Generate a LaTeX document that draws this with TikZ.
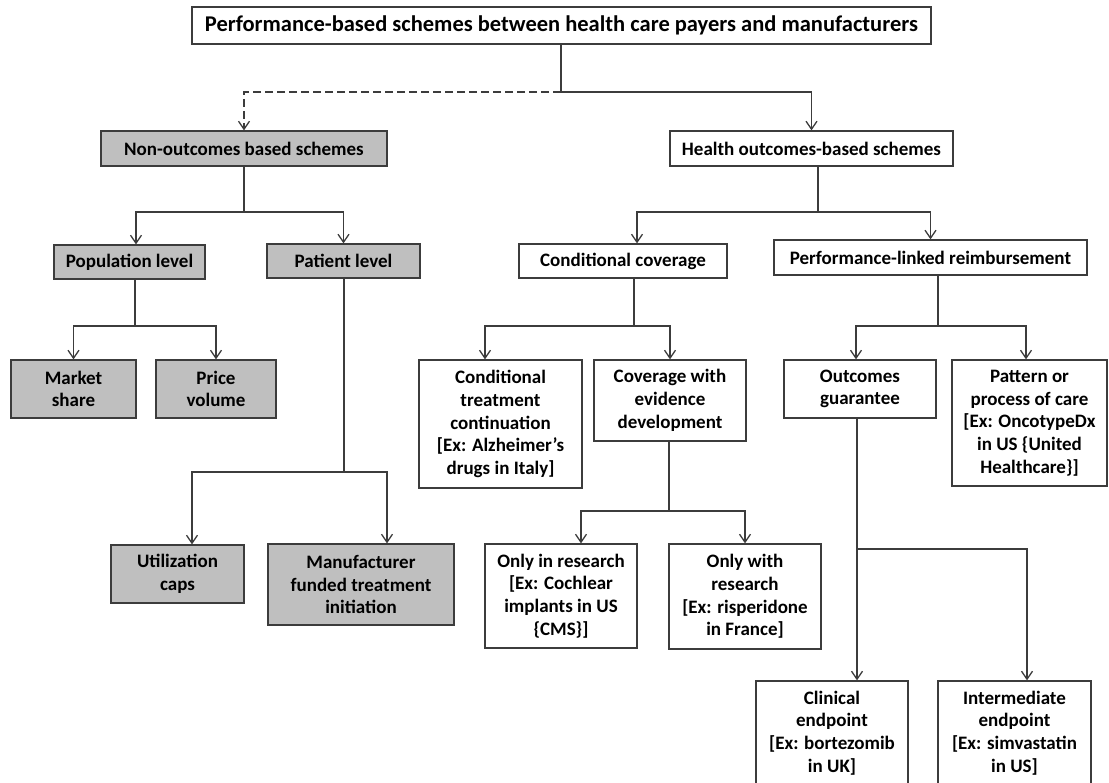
\documentclass[tikz,border=0pt]{standalone}
\usepackage{fontspec}
\setmainfont{Carlito}
\usetikzlibrary{arrows.meta}
\definecolor{linegrey}{RGB}{60,60,60}
\definecolor{boxgrey}{RGB}{191,191,191}

\begin{document}
\begin{tikzpicture}[x=1pt, y=-1pt,
  every node/.style={font=\bfseries\fontsize{19}{22.7}\selectfont},
  box/.style={draw=linegrey, line width=1.3pt, fill=white, align=center, inner sep=0pt},
  greybox/.style={box, fill=boxgrey},
  link/.style={draw=linegrey, line width=1.3pt},
  arrowlink/.style={link, -{Straight Barb[length=8pt,width=11pt]}}]
  \useasboundingbox (0,0) rectangle (1109,783);

  % top
  \node[box, minimum width=739pt, minimum height=37pt, font=\bfseries\fontsize{22.5}{26}\selectfont] (title) at (561.5,25.5)
    {Performance-based schemes between health care payers and manufacturers};

  % second row
  \node[greybox, minimum width=286pt, minimum height=35pt] (nonout) at (244,148.5) {Non-outcomes based schemes};
  \node[box, minimum width=283pt, minimum height=35pt] (health) at (811.5,148.5) {Health outcomes-based schemes};

  % third row
  \node[greybox, minimum width=151pt, minimum height=34pt] (poplevel) at (129.5,262) {Population level};
  \node[greybox, minimum width=153pt, minimum height=34pt] (patlevel) at (343.5,261) {Patient level};
  \node[box, minimum width=208pt, minimum height=34pt] (condcov) at (623,261) {Conditional coverage};
  \node[box, minimum width=313pt, minimum height=35pt] (perflink) at (930.5,257.5) {Performance-linked reimbursement};

  % fourth row
  \node[greybox, minimum width=125pt, minimum height=58pt] (market) at (73.5,389) {Market\\share};
  \node[greybox, minimum width=120pt, minimum height=58pt] (price) at (216,389) {Price\\volume};
  \node[box, minimum width=163pt, minimum height=128pt] (condtreat) at (500.5,424)
    {Conditional\\treatment\\continuation\\{}[Ex: Alzheimer’s\\drugs in Italy]};
  \node[box, minimum width=152pt, minimum height=81pt] (cwed) at (670,400.5) {Coverage with\\evidence\\development};
  \node[box, minimum width=152pt, minimum height=58pt] (outguar) at (860,389) {Outcomes\\guarantee};
  \node[box, minimum width=155pt, minimum height=126pt] (pattern) at (1029.5,423)
    {Pattern or\\process of care\\{}[Ex: OncotypeDx\\in US \{United\\Healthcare\}]};

  % fifth row
  \node[greybox, minimum width=133pt, minimum height=58pt] (utilcaps) at (177.5,574) {Utilization\\caps};
  \node[greybox, minimum width=186pt, minimum height=81pt] (manuf) at (361,584.5) {Manufacturer\\funded treatment\\initiation};
  \node[box, minimum width=152pt, minimum height=104pt] (onlyin) at (561,596)
    {Only in research\\{}[Ex: Cochlear\\implants in US\\\{CMS\}]};
  \node[box, minimum width=152pt, minimum height=105pt] (onlywith) at (745,596.5)
    {Only with\\research\\{}[Ex: risperidone\\in France]};

  % bottom row (cut by the page edge)
  \node[box, minimum width=152pt, minimum height=104pt] (clinical) at (832,733)
    {Clinical\\endpoint\\{}[Ex: bortezomib\\in UK]};
  \node[box, minimum width=153pt, minimum height=104pt] (intermed) at (1014.5,733)
    {Intermediate\\endpoint\\{}[Ex: simvastatin\\in US]};

  % split points
  \coordinate (tsplit) at (561,92);
  \coordinate (nsplit) at (244,212);
  \coordinate (hsplit) at (818,212);
  \coordinate (popsplit) at (135,326);
  \coordinate (patsplit) at (344,472);
  \coordinate (ccsplit) at (634,326);
  \coordinate (plsplit) at (938,326);
  \coordinate (cwsplit) at (669,511);
  \coordinate (ogsplit) at (857,549);

  % connectors
  \draw[link] (title.south -| tsplit) -- (tsplit);
  \draw[arrowlink, dash pattern=on 8pt off 4pt] (tsplit) -| (nonout.north);
  \draw[arrowlink] (tsplit) -| (health.north);

  \draw[link] (nonout.south -| nsplit) -- (nsplit);
  \draw[arrowlink] (nsplit) -| ([xshift=6.5pt]poplevel.north);
  \draw[arrowlink] (nsplit) -| (patlevel.north);

  \draw[link] (health.south -| hsplit) -- (hsplit);
  \draw[arrowlink] (hsplit) -| ([xshift=14pt]condcov.north);
  \draw[arrowlink] (hsplit) -| (perflink.north);

  \draw[link] (poplevel.south -| popsplit) -- (popsplit);
  \draw[arrowlink] (popsplit) -| (market.north);
  \draw[arrowlink] (popsplit) -| (price.north);

  \draw[link] (patlevel.south -| patsplit) -- (patsplit);
  \draw[arrowlink] (patsplit) -| ([xshift=14.5pt]utilcaps.north);
  \draw[arrowlink] (patsplit) -| ([xshift=26pt]manuf.north);

  \draw[link] (condcov.south -| ccsplit) -- (ccsplit);
  \draw[arrowlink] (ccsplit) -| ([xshift=-15.5pt]condtreat.north);
  \draw[arrowlink] (ccsplit) -| (cwed.north);

  \draw[link] (perflink.south -| plsplit) -- (plsplit);
  \draw[arrowlink] (plsplit) -| ([xshift=-4pt]outguar.north);
  \draw[arrowlink] (plsplit) -| ([xshift=-3.5pt]pattern.north);

  \draw[link] (cwed.south -| cwsplit) -- (cwsplit);
  \draw[arrowlink] (cwsplit) -| ([xshift=20pt]onlyin.north);
  \draw[arrowlink] (cwsplit) -| (onlywith.north);

  \draw[link] (outguar.south -| ogsplit) -- (ogsplit);
  \draw[arrowlink] (ogsplit) -| ([xshift=25pt]clinical.north);
  \draw[arrowlink] (ogsplit) -| ([xshift=12.5pt]intermed.north);
\end{tikzpicture}
\end{document}
